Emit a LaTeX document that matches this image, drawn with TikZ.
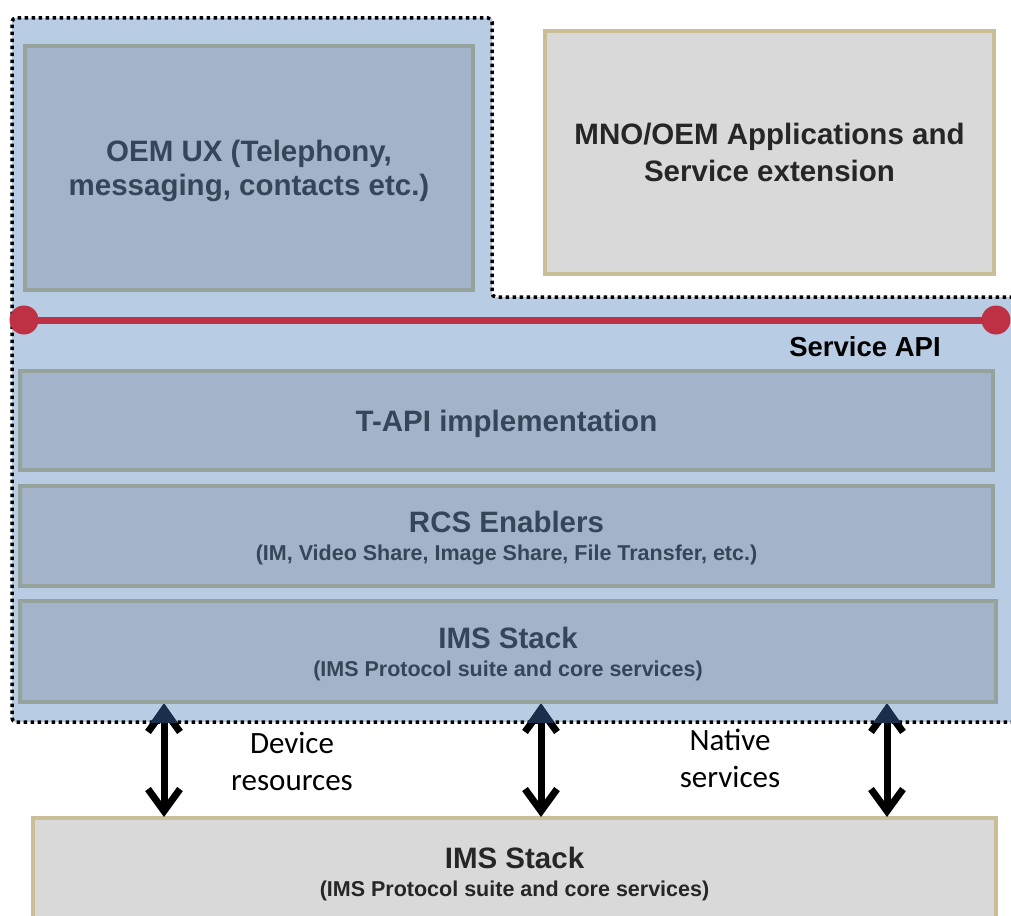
\documentclass[tikz,border=0pt]{standalone}
\usepackage{fontspec}
\setmainfont{Liberation Sans}
\newfontfamily\lblfont{Carlito}
\usetikzlibrary{arrows.meta,calc}
\definecolor{outerblue}{HTML}{B8CCE4}
\definecolor{innerblue}{HTML}{A3B4CA}
\definecolor{innerborder}{HTML}{95A39C}
\definecolor{greyfill}{HTML}{D9D9D9}
\definecolor{tanborder}{HTML}{C9BE96}
\definecolor{bluetext}{HTML}{364559}
\definecolor{darktext}{HTML}{262626}
\definecolor{apired}{HTML}{BE3144}
\definecolor{navytip}{HTML}{1B2F4D}
\tikzset{
  bluebox/.style={draw=innerborder, fill=innerblue, line width=4pt, inner sep=0pt,
    align=center, text=bluetext, text depth=0pt, font=\bfseries\fontsize{29.5}{34}\selectfont},
  greybox/.style={draw=tanborder, fill=greyfill, line width=4pt, inner sep=0pt,
    align=center, text=darktext, text depth=0pt, font=\bfseries\fontsize{29.5}{34}\selectfont},
  lbl/.style={font=\lblfont\fontsize{31}{37}\selectfont, align=center, text=black},
  dbl/.style={line width=7pt, {Straight Barb[length=22pt,width=32pt,line width=7pt]}-{Straight Barb[length=22pt,width=32pt,line width=7pt]}}
}
\newcommand{\subt}[1]{{\fontsize{21.5}{26}\selectfont #1}}
\begin{document}
\begin{tikzpicture}[x=1pt,y=-1pt]
\useasboundingbox (0,0) rectangle (1011,915);
\clip (0,0) rectangle (1011,915);
\fill[white] (0,0) rectangle (1011,915);
% outer dotted region
\fill[outerblue] (1020,297) -- (492,297) -- (492,18) -- (12,18) -- (12,722) -- (1020,722) -- cycle;
\draw[black, line width=3.5pt, dash pattern=on 3.5pt off 3.5pt, rounded corners=4pt]
  (1020,297) -- (492,297) -- (492,18) -- (12,18) -- (12,722) -- (1020,722);
% boxes
\node[bluebox, minimum width=448, minimum height=244] (oem) at (249,168)
  {OEM UX (Telephony,\\[0pt]messaging, contacts etc.)};
\node[greybox, minimum width=449, minimum height=243] (mno) at (769.5,152.5)
  {MNO/OEM Applications and\\[3pt]Service extension};
\node[bluebox, minimum width=973, minimum height=99] (tapi) at (506.5,420.5)
  {T-API implementation};
\node[bluebox, minimum width=973, minimum height=100] (rcs) at (506.5,536)
  {RCS Enablers\\[-6pt]\subt{(IM, Video Share, Image Share, File Transfer, etc.)}};
\node[bluebox, minimum width=976, minimum height=101] (ims) at (508,651.5)
  {IMS Stack\\[-6pt]\subt{(IMS Protocol suite and core services)}};
\node[greybox, minimum width=963, minimum height=130] (bot) at (514.5,883) {};
\node[align=center, text=darktext, text depth=0pt, font=\bfseries\fontsize{29.5}{34}\selectfont] (botlbl) at (514.5,872)
  {IMS Stack\\[-6pt]\subt{(IMS Protocol suite and core services)}};
% service API line
\node[circle, fill=apired, minimum size=29, inner sep=0pt] (c1) at (24,320) {};
\node[circle, fill=apired, minimum size=29, inner sep=0pt] (c2) at (996,320) {};
\draw[apired, line width=7pt] (c1.center) -- (c2.center);
\node[font=\bfseries\fontsize{27.5}{32}\selectfont, text=black] (api) at (865,347) {Service API};
% arrows
\foreach \n/\x in {1/164,2/541,3/887}{
  \coordinate (a\n t) at (\x,704);
  \coordinate (a\n b) at (\x,817);
}
\foreach \n in {1,2,3}{
  \draw[dbl] (a\n t) -- (a\n b);
  \begin{scope}
    \clip ([xshift=-30pt]a\n t) rectangle ([xshift=30pt,yshift=-18pt]a\n t);
    \fill[navytip] ([yshift=1pt]a\n t) -- ([xshift=-16pt,yshift=-22pt]a\n t) -- ([xshift=16pt,yshift=-22pt]a\n t) -- cycle;
  \end{scope}
}
\node[lbl] (dev) at (292,761) {Device\\resources};
\node[lbl] (nat) at (730,758) {Native\\services};
\end{tikzpicture}
\end{document}
